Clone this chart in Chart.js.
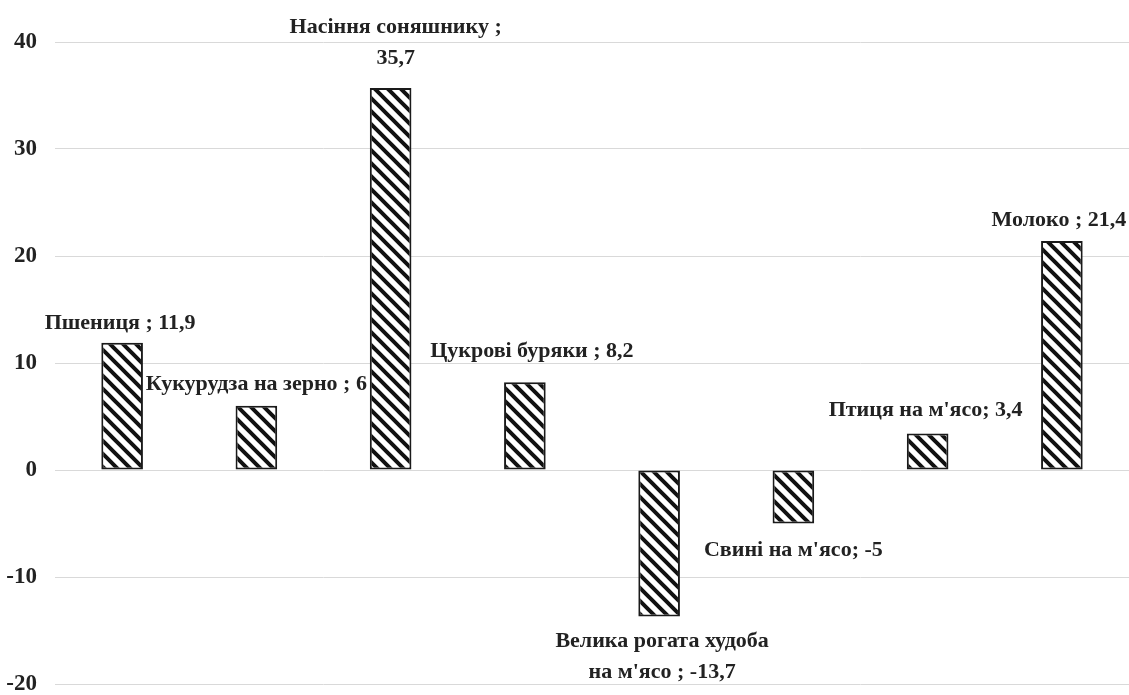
<!DOCTYPE html>
<html>
<head>
<meta charset="utf-8">
<script src="https://cdn.jsdelivr.net/npm/chart.js@4/dist/chart.umd.min.js"></script>
<style>
  html, body { margin: 0; padding: 0; background: #fff; }
  canvas { display: block; }
</style>
</head>
<body>
<canvas id="BarChart" width="1129" height="695"></canvas>
<script>
const categories = [
  "Пшениця",
  "Кукурудза на зерно",
  "Насіння соняшнику",
  "Цукрові буряки",
  "Велика рогата худоба на м'ясо",
  "Свині на м'ясо",
  "Птиця на м'ясо",
  "Молоко",
];
const values = [11.9, 6, 35.7, 8.2, -13.7, -5, 3.4, 21.4];

// label text lines, as printed next to each bar
const labelLines = [
  ["Пшениця ; 11,9"],
  ["Кукурудза на зерно ; 6"],
  ["Насіння соняшнику ;", "35,7"],
  ["Цукрові буряки ; 8,2"],
  ["Велика рогата худоба", "на м'ясо ; -13,7"],
  ["Свині на м'ясо; -5"],
  ["Птиця на м'ясо; 3,4"],
  ["Молоко ; 21,4"],
];
// label placement relative to the bar end (dx, dy of first line)
const labelOffsets = [
  [-2, -19],
  [0, -21],
  [5, -61],
  [7, -31],
  [3, 25],
  [0, 27],
  [-2, -23],
  [-3, -21],
];
const tickLabels = [-20, -10, 0, 10, 20, 30, 40];

document.addEventListener("DOMContentLoaded", function () {
  const ctx = document.getElementById("BarChart").getContext("2d");

  // diagonal hatch fill
  const step = 13;
  const pc = document.createElement("canvas");
  pc.width = step;
  pc.height = step;
  const p = pc.getContext("2d");
  p.fillStyle = "#fff";
  p.fillRect(0, 0, step, step);
  p.strokeStyle = "#111";
  p.lineWidth = 4;
  p.beginPath();
  for (let k = -1; k <= 1; k++) {
    p.moveTo(k * step - 3, -3);
    p.lineTo(k * step + step + 3, step + 3);
  }
  p.stroke();
  const hatch = ctx.createPattern(pc, "repeat");

  const serif = '"Liberation Serif", "DejaVu Serif", serif';

  const barLabels = {
    id: "barLabels",
    afterDatasetsDraw(chart) {
      const c = chart.ctx;
      const meta = chart.getDatasetMeta(0);
      c.save();
      c.font = "bold 22px " + serif;
      c.fillStyle = "#222";
      c.textAlign = "center";
      c.textBaseline = "middle";
      meta.data.forEach(function (bar, i) {
        const off = labelOffsets[i];
        labelLines[i].forEach(function (line, j) {
          c.fillText(line, bar.x + off[0], bar.y + off[1] + j * 31);
        });
      });
      c.restore();
    },
  };

  new Chart(ctx, {
    type: "bar",
    data: {
      labels: categories,
      datasets: [
        {
          data: values,
          backgroundColor: hatch,
          borderColor: "#1a1a1a",
          borderWidth: 2,
          borderSkipped: false,
          barPercentage: 0.31,
          categoryPercentage: 1,
        },
      ],
    },
    options: {
      responsive: false,
      animation: false,
      events: [],
      layout: { padding: { top: 42, bottom: 11, left: 0, right: 0 } },
      plugins: {
        legend: { display: false },
        tooltip: { enabled: false },
      },
      scales: {
        x: {
          display: false,
        },
        y: {
          min: tickLabels[0],
          max: tickLabels[tickLabels.length - 1],
          afterFit(scale) {
            scale.width = 55;
            scale.paddingTop = 0;
            scale.paddingBottom = 0;
          },
          afterBuildTicks(scale) {
            scale.ticks = tickLabels.map((v) => ({ value: v }));
          },
          ticks: {
            padding: 18,
            color: "#222",
            font: { family: serif, size: 23, weight: "bold" },
          },
          grid: { color: "#d9d9d9", lineWidth: 1, drawTicks: false },
          border: { display: false },
        },
      },
    },
    plugins: [barLabels],
  });
});
</script>
</body>
</html>
